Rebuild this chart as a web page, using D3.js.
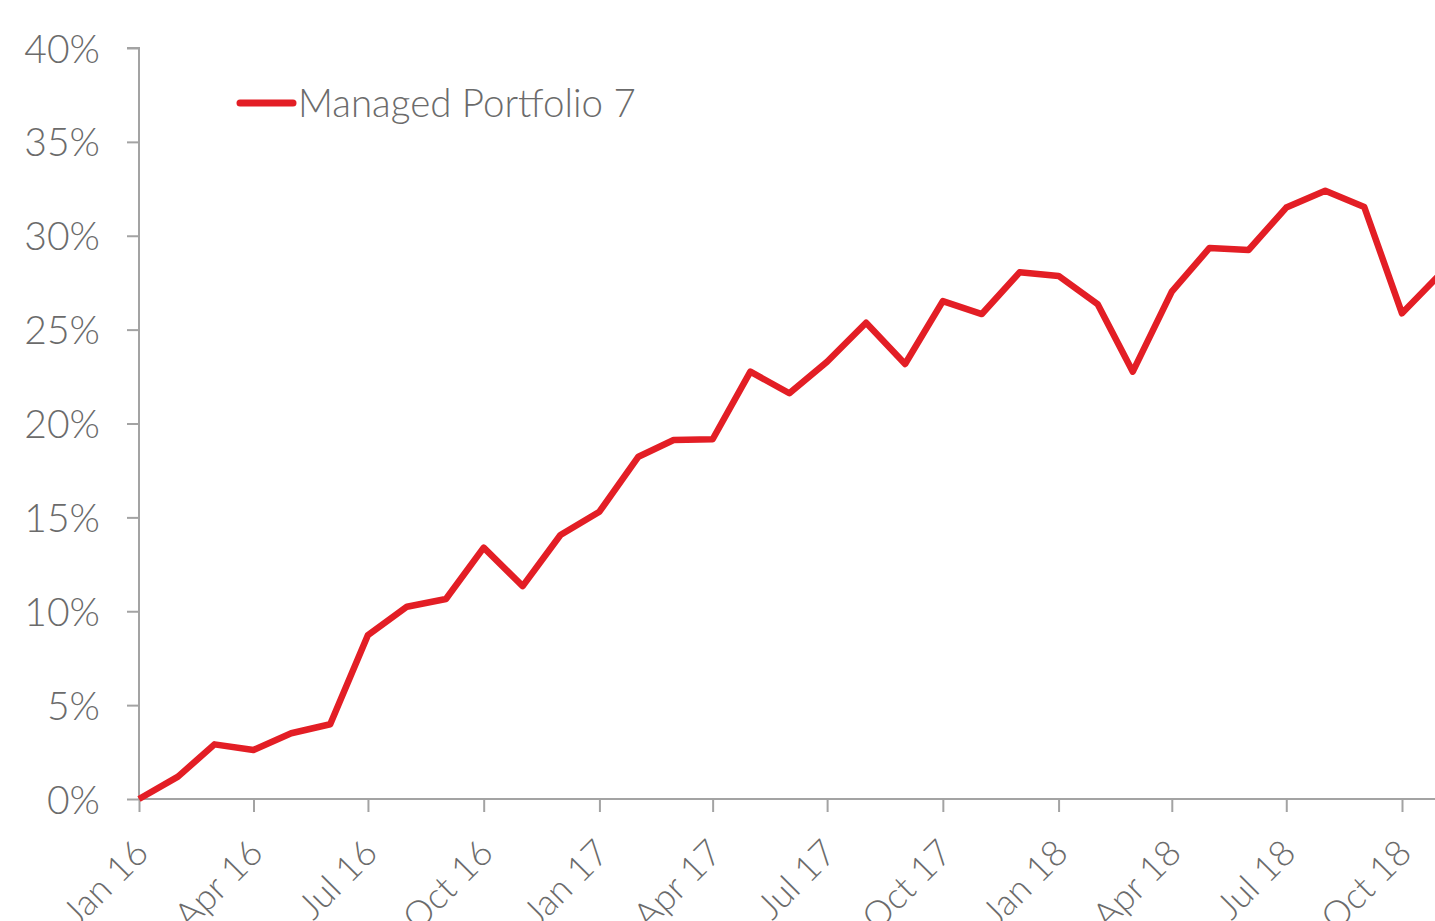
<!DOCTYPE html>
<html>
<head>
<meta charset="utf-8">
<script src="https://cdn.jsdelivr.net/npm/d3@7"></script>
<style>
  html, body { margin: 0; padding: 0; background: #fff; overflow: hidden; }
  .axis text { font-family: Lato, "Open Sans", sans-serif; font-weight: 300; fill: #6b6b6b; }
  .axis path, .axis line { stroke: #a3a3a3; stroke-width: 2; }
</style>
</head>
<body>
<div class="chart-container"></div>
<script>
// month starts of each point
const months = ["2016-01","2016-02","2016-03","2016-04","2016-05","2016-06","2016-07","2016-08","2016-09","2016-10","2016-11","2016-12",
  "2017-01","2017-02","2017-03","2017-04","2017-05","2017-06","2017-07","2017-08","2017-09","2017-10","2017-11","2017-12",
  "2018-01","2018-02","2018-03","2018-04","2018-05","2018-06","2018-07","2018-08","2018-09","2018-10","2018-11"];
// cumulative return, %
const portfolio7 = [0, 1.19, 2.91, 2.61, 3.5, 3.98, 8.73, 10.24, 10.65, 13.39, 11.34, 14.06,
  15.3, 18.23, 19.12, 19.16, 22.76, 21.61, 23.29, 25.37, 23.17, 26.52, 25.83, 28.05,
  27.86, 26.36, 22.76, 27.02, 29.35, 29.24, 31.5, 32.4, 31.53, 25.87, 28.0];
const seriesName = "Managed Portfolio 7";
const yTicks = [0, 5, 10, 15, 20, 25, 30, 35, 40];
const xTicks = ["2016-01","2016-04","2016-07","2016-10","2017-01","2017-04","2017-07","2017-10","2018-01","2018-04","2018-07","2018-10"];
const monthNames = ["Jan","Feb","Mar","Apr","May","Jun","Jul","Aug","Sep","Oct","Nov","Dec"];

function draw(){
    const width = 1435;
    const height = 921;
    const marginLeft = 139;
    const xEnd = 1402;      // Oct 18 tick
    const yZero = 799;
    const yTop = 48;

    const parse = s => new Date(s + "-01T00:00:00Z");
    const data = months.map((m, i) => [parse(m), portfolio7[i]]);

    const x = d3.scaleUtc()
        .domain([parse("2016-01"), parse("2018-10")])
        .range([marginLeft, xEnd]);

    const y = d3.scaleLinear()
        .domain([0, 40])
        .range([yZero, yTop]);

    const svg = d3.select('.chart-container').append("svg")
        .attr("width", width)
        .attr("height", height);

    // y-axis
    const yAxis = svg.append("g")
        .attr("class", "axis")
        .attr("transform", `translate(${marginLeft},0)`)
        .call(d3.axisLeft(y).tickValues(yTicks).tickSize(12).tickPadding(27).tickFormat(d => d + "%"));
    yAxis.select(".domain").attr("d", `M-12,${yTop}H0V${yZero}`);
    yAxis.selectAll("text").style("font-size", "39px").attr("dy", "0.36em");

    // x-axis
    const xAxis = svg.append("g")
        .attr("class", "axis")
        .attr("transform", `translate(0,${yZero})`)
        .call(d3.axisBottom(x).tickValues(xTicks.map(parse)).tickSize(13)
            .tickFormat(d => monthNames[d.getUTCMonth()] + " " + String(d.getUTCFullYear()).slice(2)));
    xAxis.select(".domain").attr("d", `M${marginLeft},0H${width}`);
    xAxis.selectAll("text")
        .style("font-size", "36px")
        .style("text-anchor", "end")
        .attr("y", 0).attr("dy", 0)
        .attr("transform", "translate(11,56) rotate(-45)");

    // line
    const line = d3.line()
        .x(d => x(d[0]))
        .y(d => y(d[1]));

    svg.append("path")
        .datum(data)
        .attr("fill", "none")
        .attr("stroke", "#e31e25")
        .attr("stroke-width", 6.5)
        .attr("stroke-linejoin", "round")
        .attr("d", line);

    // legend
    const legend = svg.append("g").attr("transform", "translate(240,103)");
    legend.append("line")
        .attr("x1", 0).attr("x2", 53)
        .attr("stroke", "#e31e25")
        .attr("stroke-width", 7)
        .attr("stroke-linecap", "round");
    legend.append("text")
        .attr("x", 58).attr("y", 14)
        .style("font-family", "Lato, 'Open Sans', sans-serif")
        .style("font-weight", 300)
        .style("font-size", "38.5px")
        .attr("fill", "#6b6b6b")
        .text(seriesName);
}

draw();
</script>
</body>
</html>
